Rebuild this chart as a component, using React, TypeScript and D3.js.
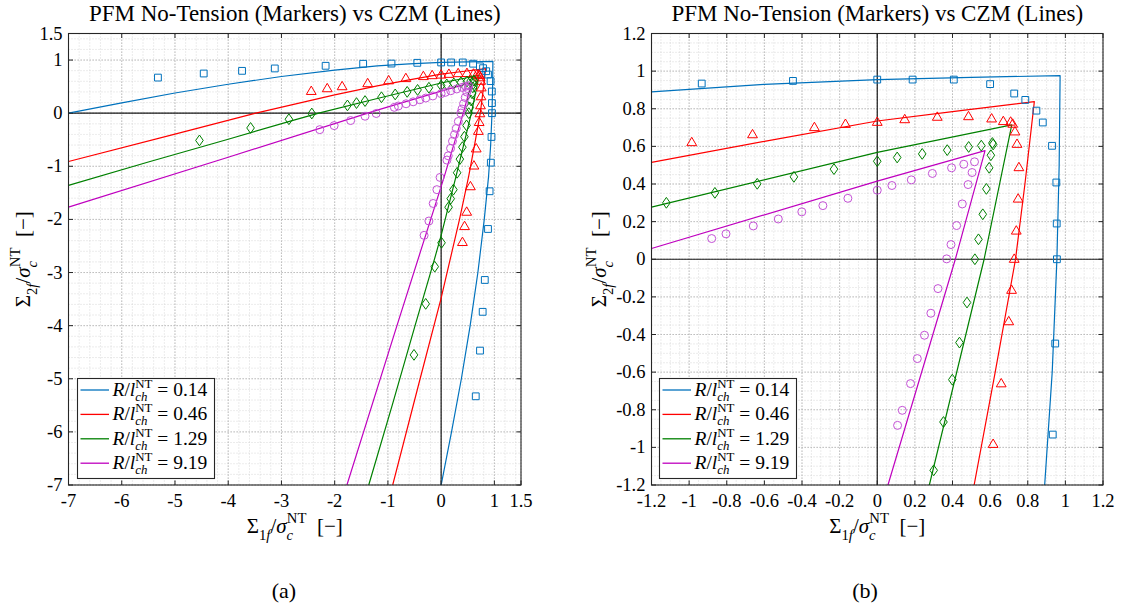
import React from "react";
import * as d3 from "d3";

type P = [number, number];

const ratios = ["0.14", "0.46", "1.29", "9.19"];
const lineColors = ["#0072BD", "#FF0000", "#008000", "#BF00BF"];
const markerColors = ["#0072BD", "#FF0000", "#008000", "#C452D6"];
const markerKinds = ["square", "triangle", "diamond", "circle"];

// CZM envelopes (lines)
const czm014: P[] = [
  [-7, 0], [-6, 0.195], [-5, 0.38], [-4, 0.545], [-3, 0.69], [-2, 0.81], [-1.2, 0.89], [-0.6, 0.93],
  [0, 0.955], [0.5, 0.967], [0.972, 0.976], [0.967, 0.5], [0.955, 0], [0.93, -0.6], [0.89, -1.2],
  [0.81, -2], [0.69, -3], [0.545, -4], [0.38, -5], [0.195, -6], [0, -7],
];
const czm046: P[] = [
  [-7, -0.91], [-5, -0.395], [-3.5, -0.005], [-2, 0.345], [-1.2, 0.515], [-0.6, 0.627], [0, 0.735],
  [0.4, 0.785], [0.835, 0.838], [0.785, 0.4], [0.735, 0], [0.627, -0.6], [0.515, -1.2], [0.345, -2],
  [-0.005, -3.5], [-0.395, -5], [-0.91, -7],
];
const czm129: P[] = [
  [-7, -1.36], [-5.5, -0.92], [-4, -0.49], [-2.8, -0.14], [-2.3, 0], [-1.2, 0.277], [0, 0.568],
  [0.715, 0.714], [0.568, 0], [0.277, -1.2], [0, -2.3], [-0.14, -2.8], [-0.49, -4], [-0.92, -5.5],
  [-1.36, -7],
];
const czm919: P[] = [
  [-7, -1.77], [-4, -0.83], [-1.2, 0.057], [0, 0.415], [0.573, 0.577], [0.415, 0], [0.057, -1.2],
  [-0.83, -4], [-1.77, -7],
];

// PFM No-Tension (markers)
const pfm014: P[] = [
  [-5.32, 0.67], [-4.46, 0.747], [-3.74, 0.797], [-3.125, 0.842], [-2.17, 0.892], [-1.465, 0.93],
  [-0.933, 0.934], [-0.448, 0.948], [0, 0.955], [0.188, 0.955], [0.407, 0.955], [0.6, 0.931],
  [0.728, 0.881], [0.787, 0.847], [0.846, 0.79], [0.88, 0.727], [0.929, 0.603], [0.952, 0.408],
  [0.954, 0.19], [0.955, 0], [0.946, -0.448], [0.933, -0.932], [0.91, -1.47], [0.88, -2.18],
  [0.82, -3.14], [0.78, -3.74], [0.73, -4.47], [0.65, -5.33],
];
const pfm046: P[] = [
  [-2.44, 0.424], [-2.14, 0.475], [-1.86, 0.513], [-1.38, 0.57], [-0.986, 0.624], [-0.663, 0.666],
  [-0.334, 0.704], [-0.169, 0.721], [0, 0.732], [0.146, 0.746], [0.319, 0.759], [0.485, 0.762],
  [0.608, 0.75], [0.67, 0.736], [0.709, 0.733], [0.72, 0.722], [0.732, 0.681], [0.743, 0.615],
  [0.753, 0.491], [0.749, 0.324], [0.739, 0.154], [0.728, 0.004], [0.714, -0.161], [0.699, -0.328],
  [0.659, -0.658], [0.616, -0.98], [0.55, -1.37], [0.48, -1.85], [0.44, -2.12], [0.4, -2.42],
];
const pfm129: P[] = [
  [-4.54, -0.513], [-3.58, -0.278], [-2.86, -0.114], [-2.43, -0.006], [-1.76, 0.146], [-1.59, 0.19],
  [-1.43, 0.228], [-1.121, 0.3], [-0.863, 0.353], [-0.638, 0.401], [-0.443, 0.438], [-0.23, 0.479],
  [0, 0.521], [0.106, 0.541], [0.239, 0.56], [0.372, 0.58], [0.486, 0.597], [0.553, 0.604],
  [0.612, 0.618], [0.616, 0.61], [0.604, 0.553], [0.595, 0.486], [0.58, 0.374], [0.561, 0.239],
  [0.538, 0.106], [0.519, 0], [0.477, -0.23], [0.437, -0.443], [0.399, -0.64], [0.352, -0.865],
  [0.3, -1.122], [0.23, -1.44], [0.18, -1.61], [0.14, -1.77], [0.007, -2.44], [-0.12, -2.89],
  [-0.29, -3.59], [-0.51, -4.55],
];
const pfm919: P[] = [
  [-2.28, -0.31], [-2.01, -0.234], [-1.7, -0.139], [-1.43, -0.057], [-1.22, -0.006], [-0.88, 0.11],
  [-0.804, 0.135], [-0.659, 0.177], [-0.526, 0.214], [-0.401, 0.252], [-0.289, 0.285], [-0.156, 0.324],
  [0, 0.367], [0.078, 0.392], [0.181, 0.422], [0.293, 0.456], [0.395, 0.486], [0.46, 0.505],
  [0.517, 0.518], [0.504, 0.461], [0.483, 0.397], [0.452, 0.294], [0.422, 0.179], [0.392, 0.078],
  [0.369, 0.002], [0.323, -0.156], [0.285, -0.287], [0.251, -0.404], [0.213, -0.528], [0.177, -0.661],
  [0.133, -0.803], [0.108, -0.883], [-0.02, -1.21], [-0.08, -1.44], [-0.15, -1.7], [-0.23, -2.03],
  [-0.32, -2.3],
];

const czmLines = [czm014, czm046, czm129, czm919];
const pfmPoints = [pfm014, pfm046, pfm129, pfm919];

const leftXTicks = [-7, -6, -5, -4, -3, -2, -1, 0, 1, 1.5];
const leftYTicks = [-7, -6, -5, -4, -3, -2, -1, 0, 1, 1.5];
const rightTicks = [-1.2, -1, -0.8, -0.6, -0.4, -0.2, 0, 0.2, 0.4, 0.6, 0.8, 1, 1.2];

const titleText = "PFM No-Tension (Markers) vs CZM (Lines)";
const FONT = '"Liberation Serif", "DejaVu Serif", serif';

type Seg = { t: string; it?: boolean; pos?: "sub" | "sup"; dx?: number };

function MText(props: {
  x: number; y: number; fs: number; segs: Seg[]; anchor?: string; rotate?: boolean;
  subOff?: number; supOff?: number; scr?: number;
}) {
  const { x, y, fs, segs, anchor = "middle", rotate = false, subOff = 0.32, supOff = -0.5, scr = 0.7 } = props;
  let cur = 0;
  const spans = segs.map((s, i) => {
    const target = s.pos === "sub" ? subOff * fs : s.pos === "sup" ? supOff * fs : 0;
    const dy = target - cur;
    cur = target;
    return (
      <tspan key={i} dy={dy !== 0 ? dy : undefined} dx={s.dx ? s.dx * fs : undefined}
        fontSize={s.pos ? fs * scr : fs} fontStyle={s.it ? "italic" : "normal"}>
        {s.t}
      </tspan>
    );
  });
  return (
    <text x={x} y={y} textAnchor={anchor as any} fontSize={fs} fill="#000"
      style={{ whiteSpace: "pre", fontFamily: FONT }} transform={rotate ? `rotate(-90 ${x} ${y})` : undefined}>
      {spans}
    </text>
  );
}

const fmt = (v: number) => {
  const r = Math.round(v * 100) / 100;
  return Object.is(r, -0) || r === 0 ? "0" : String(r);
};

function Marker({ kind, x, y, color }: { kind: string; x: number; y: number; color: string }) {
  const common = { fill: "none", stroke: color, strokeWidth: 1 };
  if (kind === "circle") return <circle cx={x} cy={y} r={4} {...common} />;
  let d = "";
  if (kind === "square") d = "M-3.4,-3.4H3.4V3.4H-3.4Z";
  if (kind === "triangle") d = "M0,-4.6L4.9,3.8L-4.9,3.8Z";
  if (kind === "diamond") d = "M0,-5.4L3.8,0L0,5.4L-3.8,0Z";
  return <path d={d} transform={`translate(${x},${y})`} {...common} />;
}

const axisLabelSegs = (idx: string): Seg[] => [
  { t: "Σ" }, { t: idx, pos: "sub" }, { t: "f", pos: "sub", it: true }, { t: "/" }, { t: "σ", it: true },
  { t: "c", pos: "sub", it: true }, { t: "NT", pos: "sup", dx: -0.3 }, { t: "  [−]" },
];

function Panel(props: {
  id: string; xDom: [number, number]; xRange: [number, number]; yDom: [number, number];
  yRange: [number, number]; xTicks: number[]; yTicks: number[]; minorStep: number;
  legendX: number; subLabel: string; subX: number; yLabelX: number;
}) {
  const { id, xDom, xRange, yDom, yRange, xTicks, yTicks, minorStep, legendX, subLabel, subX, yLabelX } = props;
  const x = d3.scaleLinear().domain(xDom).range(xRange);
  const y = d3.scaleLinear().domain(yDom).range(yRange);
  const [x0, x1] = xRange;
  const [y0, y1] = yRange; // y0 bottom, y1 top
  const xMinor = d3.range(xDom[0], xDom[1] + 1e-9, minorStep);
  const yMinor = d3.range(yDom[0], yDom[1] + 1e-9, minorStep);
  const line = d3.line<P>().x((d) => x(d[0])).y((d) => y(d[1]));
  const cx = (x0 + x1) / 2;
  const cy = (y0 + y1) / 2;
  const inDom = (p: P) => p[0] >= xDom[0] && p[0] <= xDom[1] && p[1] >= yDom[0] && p[1] <= yDom[1];
  const tl = 4.5;
  const axisColor = "#262626";
  return (
    <g>
      <defs>
        <clipPath id={`clip-${id}`}>
          <rect x={x0} y={y1} width={x1 - x0} height={y0 - y1} />
        </clipPath>
      </defs>
      <rect x={x0} y={y1} width={x1 - x0} height={y0 - y1} fill="#fff" />
      <g stroke="#c8c8c8" strokeWidth={0.7} strokeDasharray="1,2">
        {xMinor.map((v, i) => (
          <line key={"xm" + i} x1={x(v)} x2={x(v)} y1={y1} y2={y0} />
        ))}
        {yMinor.map((v, i) => (
          <line key={"ym" + i} x1={x0} x2={x1} y1={y(v)} y2={y(v)} />
        ))}
      </g>
      <g stroke="#b4b4b4" strokeWidth={0.8} strokeDasharray="1.5,1.5">
        {xTicks.map((v, i) => (
          <line key={"xM" + i} x1={x(v)} x2={x(v)} y1={y1} y2={y0} />
        ))}
        {yTicks.map((v, i) => (
          <line key={"yM" + i} x1={x0} x2={x1} y1={y(v)} y2={y(v)} />
        ))}
      </g>
      <g stroke="#1a1a1a" strokeWidth={1.2}>
        <line x1={x(0)} x2={x(0)} y1={y1} y2={y0} />
        <line x1={x0} x2={x1} y1={y(0)} y2={y(0)} />
      </g>
      <g clipPath={`url(#clip-${id})`}>
        {czmLines.map((d, i) => (
          <path key={"l" + i} d={line(d) || ""} fill="none" stroke={lineColors[i]} strokeWidth={1.2}
            strokeLinejoin="round" />
        ))}
      </g>
      <g>
        {pfmPoints.map((pts, i) =>
          pts.filter(inDom).map((p, j) => (
            <Marker key={`m${i}-${j}`} kind={markerKinds[i]} x={x(p[0])} y={y(p[1])} color={markerColors[i]} />
          ))
        )}
      </g>
      <rect x={x0} y={y1} width={x1 - x0} height={y0 - y1} fill="none" stroke={axisColor} strokeWidth={1.1} />
      <g stroke={axisColor} strokeWidth={1}>
        {xTicks.map((v, i) => (
          <g key={"xt" + i}>
            <line x1={x(v)} x2={x(v)} y1={y0} y2={y0 - tl} />
            <line x1={x(v)} x2={x(v)} y1={y1} y2={y1 + tl} />
          </g>
        ))}
        {yTicks.map((v, i) => (
          <g key={"yt" + i}>
            <line x1={x0} x2={x0 + tl} y1={y(v)} y2={y(v)} />
            <line x1={x1} x2={x1 - tl} y1={y(v)} y2={y(v)} />
          </g>
        ))}
      </g>
      <g fontSize={18.5} fill="#000" style={{ fontFamily: FONT }}>
        {xTicks.map((v, i) => (
          <text key={"xl" + i} x={x(v)} y={y0 + 22} textAnchor="middle">{fmt(v)}</text>
        ))}
        {yTicks.map((v, i) => (
          <text key={"yl" + i} x={x0 - 6} y={y(v) + 6} textAnchor="end">{fmt(v)}</text>
        ))}
      </g>
      <text x={cx} y={21} textAnchor="middle" fontSize={23} fill="#000" style={{ fontFamily: FONT }}>{titleText}</text>
      <MText x={cx} y={533} fs={21} segs={axisLabelSegs("1")} />
      <MText x={yLabelX} y={cy} fs={21} rotate segs={axisLabelSegs("2")} />
      <text x={subX} y={598} textAnchor="middle" fontSize={22} fill="#000" style={{ fontFamily: FONT }}>{subLabel}</text>
      <g>
        <rect x={legendX} y={378.5} width={137} height={100} fill="#fff" stroke="#262626" strokeWidth={1.1} />
        {ratios.map((r, i) => {
          const ly = 390 + i * 24.4;
          return (
            <g key={"lg" + i}>
              <line x1={legendX + 3} x2={legendX + 31.5} y1={ly} y2={ly} stroke={lineColors[i]} strokeWidth={1.3} />
              <MText x={legendX + 35} y={ly + 6} fs={19.5} anchor="start" subOff={0.26} supOff={-0.42} scr={0.66}
                segs={[
                  { t: "R", it: true }, { t: "/" }, { t: "l", it: true }, { t: "ch", pos: "sub", it: true },
                  { t: "NT", pos: "sup", dx: -0.62 }, { t: " = " + r },
                ]} />
            </g>
          );
        })}
      </g>
    </g>
  );
}

export default function App() {
  return (
    <svg width={1121} height={609} viewBox="0 0 1121 609"
      style={{ position: "absolute", left: 0, top: 0, background: "#fff" }}>
      <rect width={1121} height={609} fill="#fff" />
      <Panel id="a" xDom={[-7, 1.5]} xRange={[68.5, 521]} yDom={[-7, 1.5]} yRange={[485, 33.5]}
        xTicks={leftXTicks} yTicks={leftYTicks} minorStep={0.2} legendX={77.5} subLabel="(a)" subX={284}
        yLabelX={30} />
      <Panel id="b" xDom={[-1.2, 1.2]} xRange={[651.5, 1103]} yDom={[-1.2, 1.2]} yRange={[485, 33.5]}
        xTicks={rightTicks} yTicks={rightTicks} minorStep={0.05} legendX={659.5} subLabel="(b)" subX={865}
        yLabelX={606} />
    </svg>
  );
}
